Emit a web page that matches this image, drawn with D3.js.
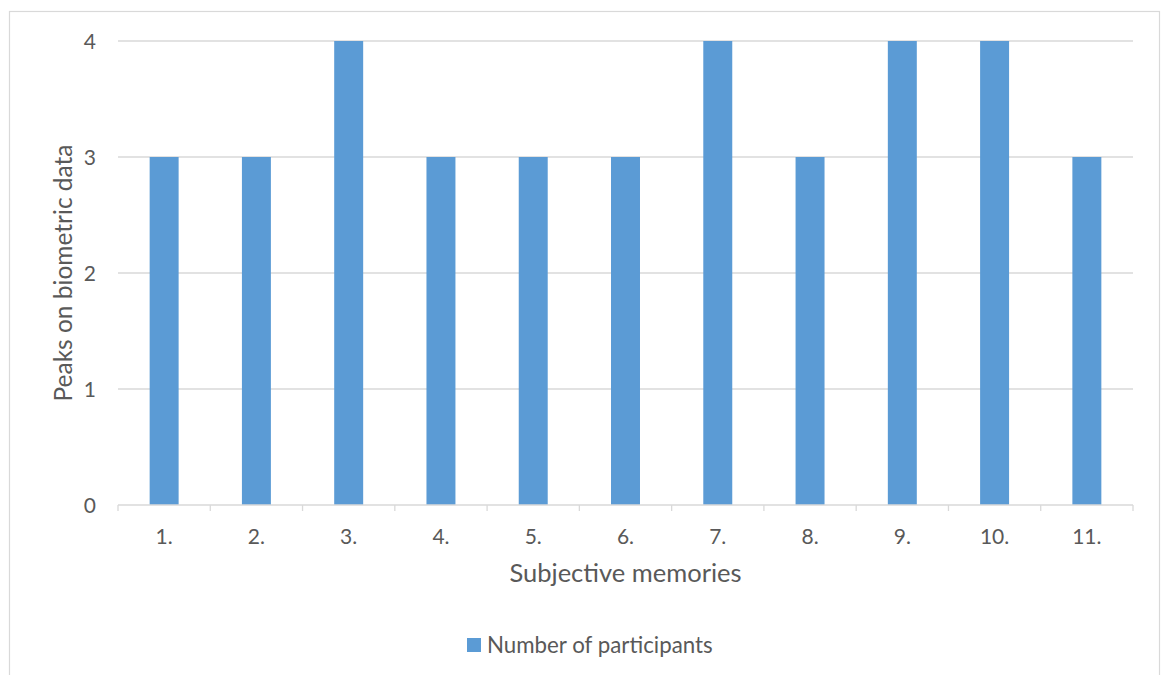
<!DOCTYPE html>
<html>
<head>
<meta charset="utf-8">
<script src="https://cdn.jsdelivr.net/npm/d3@7"></script>
<style>
  html, body { margin: 0; padding: 0; background: #fff; }
  svg { display: block; font-family: Lato, "Open Sans", "Liberation Sans", sans-serif; }
</style>
</head>
<body>
<svg id="chart" width="1161" height="675"></svg>
<script>
// Categories and values
const categories = ["1.", "2.", "3.", "4.", "5.", "6.", "7.", "8.", "9.", "10.", "11."];
const participants = [3, 3, 4, 3, 3, 3, 4, 3, 4, 4, 3];
const yTicks = [0, 1, 2, 3, 4];
const seriesName = "Number of participants";
const xTitle = "Subjective memories";
const yTitle = "Peaks on biometric data";

const svg = d3.select("#chart");
const plot = { left: 118, right: 1133, top: 41, bottom: 505 };
const textColor = "#595959";
const gridColor = "#d9d9d9";
const barColor = "#5b9bd5";

// Chart frame
svg.append("rect")
  .attr("x", 9.5).attr("y", 11.5)
  .attr("width", 1150).attr("height", 700)
  .attr("fill", "#fff")
  .attr("stroke", "#d9d9d9").attr("stroke-width", 1.2);

const x = d3.scaleBand()
  .domain(categories)
  .range([plot.left, plot.right])
  .paddingInner(0.686)
  .paddingOuter(0.343);

const y = d3.scaleLinear().domain([0, 4]).range([plot.bottom, plot.top]);

// Horizontal gridlines
svg.append("g")
  .selectAll("line")
  .data(yTicks.filter(d => d > 0))
  .join("line")
  .attr("x1", plot.left).attr("x2", plot.right)
  .attr("y1", d => y(d)).attr("y2", d => y(d))
  .attr("stroke", gridColor).attr("stroke-width", 1.3);

// Bars
svg.append("g")
  .selectAll("rect")
  .data(categories.map((c, i) => ({ c, v: participants[i] })))
  .join("rect")
  .attr("x", d => x(d.c))
  .attr("width", x.bandwidth())
  .attr("y", d => y(d.v))
  .attr("height", d => y(0) - y(d.v))
  .attr("fill", barColor);

// Category axis with tick marks between categories
const bounds = d3.range(categories.length + 1)
  .map(i => plot.left + i * (plot.right - plot.left) / categories.length);
const xAxis = svg.append("g");
xAxis.append("line")
  .attr("x1", plot.left).attr("x2", plot.right)
  .attr("y1", plot.bottom).attr("y2", plot.bottom)
  .attr("stroke", gridColor).attr("stroke-width", 1.3);
xAxis.selectAll("line.tick")
  .data(bounds)
  .join("line")
  .attr("class", "tick")
  .attr("x1", d => d).attr("x2", d => d)
  .attr("y1", plot.bottom).attr("y2", plot.bottom + 6)
  .attr("stroke", gridColor).attr("stroke-width", 1.3);
xAxis.selectAll("text")
  .data(categories)
  .join("text")
  .attr("x", d => x(d) + x.bandwidth() / 2)
  .attr("y", 544)
  .attr("text-anchor", "middle")
  .attr("font-size", 21)
  .attr("fill", textColor)
  .text(d => d);

// Value axis labels
svg.append("g")
  .selectAll("text")
  .data(yTicks)
  .join("text")
  .attr("x", 96)
  .attr("y", d => y(d))
  .attr("dy", "0.36em")
  .attr("text-anchor", "end")
  .attr("font-size", 21)
  .attr("fill", textColor)
  .text(d => d);

// Axis titles
svg.append("text")
  .attr("x", (plot.left + plot.right) / 2)
  .attr("y", 582)
  .attr("text-anchor", "middle")
  .attr("font-size", 25.5)
  .attr("fill", textColor)
  .text(xTitle);

svg.append("text")
  .attr("transform", `translate(72,${(plot.top + plot.bottom) / 2}) rotate(-90)`)
  .attr("text-anchor", "middle")
  .attr("font-size", 24.5)
  .attr("fill", textColor)
  .text(yTitle);

// Legend
const legend = svg.append("g").attr("transform", "translate(467,645)");
legend.append("rect")
  .attr("x", 0).attr("y", -7)
  .attr("width", 14).attr("height", 14)
  .attr("fill", barColor);
legend.append("text")
  .attr("x", 20).attr("y", 0)
  .attr("dy", "0.36em")
  .attr("font-size", 22.3)
  .attr("fill", textColor)
  .text(seriesName);
</script>
</body>
</html>
